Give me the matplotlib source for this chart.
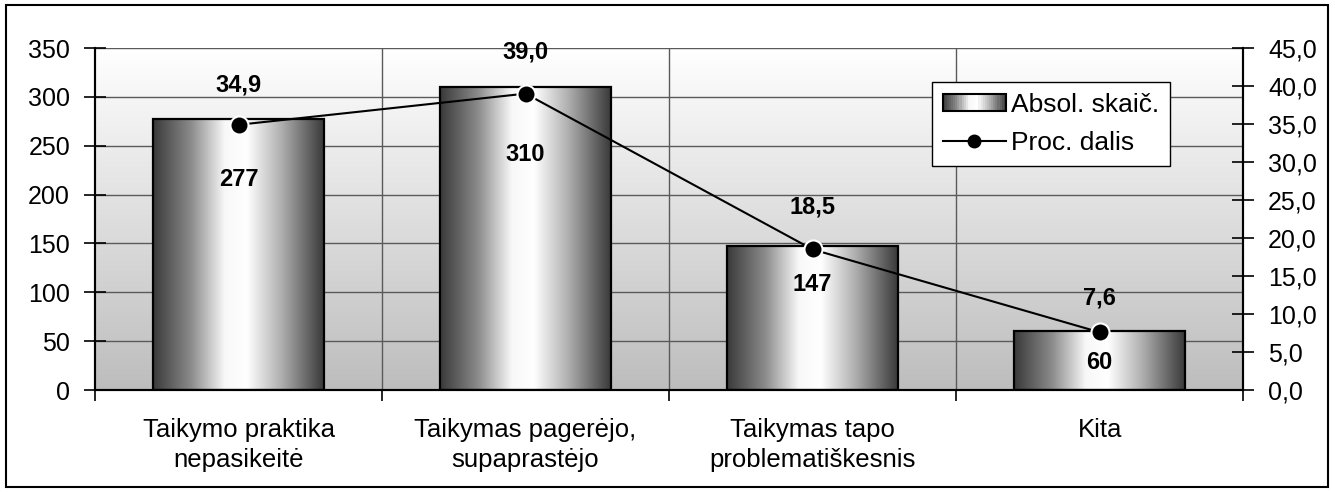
#!/usr/bin/env python

import numpy as np
import matplotlib
matplotlib.use('Agg')
import matplotlib.pyplot as plt
from matplotlib.patches import Rectangle
from matplotlib.lines import Line2D
from matplotlib.colors import LinearSegmentedColormap
from matplotlib.legend_handler import HandlerBase

categories = ['Taikymo praktika\nnepasikeitė', 'Taikymas pagerėjo,\nsupaprastėjo',
              'Taikymas tapo\nproblematiškesnis', 'Kita']
absol = [277, 310, 147, 60]
proc = [34.9, 39.0, 18.5, 7.6]
left_ticks = [0, 50, 100, 150, 200, 250, 300, 350]
right_ticks = [0, 5, 10, 15, 20, 25, 30, 35, 40, 45]

bar_cmap = LinearSegmentedColormap.from_list(
    'cyl', [(0.0, '#3a3a3a'), (0.22, '#8a8a8a'), (0.42, '#f8f8f8'), (0.55, '#ffffff'),
            (0.75, '#b0b0b0'), (1.0, '#3a3a3a')])
bg_cmap = LinearSegmentedColormap.from_list('bg', ['#bdbdbd', '#ffffff'])


class GradientHandler(HandlerBase):
    def create_artists(self, legend, orig_handle, xdescent, ydescent,
                       width, height, fontsize, trans):
        arts = []
        n = 30
        w = width / n
        for i in range(n):
            c = bar_cmap((i + 0.5) / n)
            arts.append(Rectangle((-xdescent + i * w, -ydescent), w, height,
                                  fc=c, ec='none', transform=trans))
        arts.append(Rectangle((-xdescent, -ydescent), width, height,
                              fc='none', ec='black', lw=1.5, transform=trans))
        return arts


def main():
    plt.rcParams['font.family'] = ['Liberation Sans', 'DejaVu Sans']
    fig = plt.figure(figsize=(13.35, 4.92), dpi=100)
    ax = fig.add_axes([0.0712, 0.2073, 0.86, 0.6951])
    ax2 = ax.twinx()

    x = np.arange(len(categories))
    ax.set_xlim(-0.5, len(categories) - 0.5)
    ax.set_ylim(0, 350)
    ax2.set_ylim(0, 45)

    # background gradient
    grad = np.linspace(0, 1, 256).reshape(-1, 1)
    ax.imshow(grad, cmap=bg_cmap, aspect='auto', origin='lower',
              extent=(-0.5, len(categories) - 0.5, 0, 350), zorder=0)

    # grid
    for v in left_ticks[1:]:
        ax.axhline(v, color='#5a5a5a', lw=1.0, zorder=1)
    for b in x[:-1] + 0.5:
        ax.axvline(b, color='#5a5a5a', lw=1.0, zorder=1)

    # cylinder bars
    bw = 0.595
    bars = ax.bar(x, absol, width=bw, color='none', edgecolor='black', lw=1.6, zorder=3)
    hgrad = np.linspace(0, 1, 256).reshape(1, -1)
    for rect in bars:
        x0 = rect.get_x()
        h = rect.get_height()
        im = ax.imshow(hgrad, cmap=bar_cmap, aspect='auto',
                       extent=(x0, x0 + rect.get_width(), 0, h), zorder=2)
        im.set_clip_path(rect)
    ax.set_xlim(-0.5, len(categories) - 0.5)
    ax.set_ylim(0, 350)

    # line on secondary axis
    ax2.plot(x, proc, color='black', lw=1.5, marker='o', markersize=13,
             markerfacecolor='black', markeredgecolor='white', markeredgewidth=1.5, zorder=5)

    # labels
    bar_offsets = [-60, -67, -38, -31]
    for xi, v, off in zip(x, absol, bar_offsets):
        ax.annotate(str(v), (xi, v), xytext=(0, off), textcoords='offset pixels',
                    ha='center', va='center', fontsize=17, fontweight='bold', zorder=6)
    proc_offsets = [40, 42, 42, 34]
    for xi, v, off in zip(x, proc, proc_offsets):
        ax2.annotate(f'{v:.1f}'.replace('.', ','), (xi, v), xytext=(0, off),
                     textcoords='offset pixels', ha='center', va='center',
                     fontsize=17, fontweight='bold')

    # axes styling
    ax.set_xticks(np.arange(-0.5, len(categories)), minor=False)
    ax.set_xticklabels([])
    ax.set_xticks(x, minor=True)
    ax.set_xticklabels(categories, minor=True, fontsize=18.5, linespacing=1.35)
    ax.tick_params(axis='x', which='major', direction='out', length=8, width=1.2)
    ax.tick_params(axis='x', which='minor', length=0, pad=20)

    ax.set_yticks(left_ticks)
    ax.tick_params(axis='y', direction='inout', length=16, width=1.2, labelsize=18, pad=10)
    ax2.set_yticks(right_ticks)
    ax2.set_yticklabels([f'{v:.1f}'.replace('.', ',') for v in right_ticks])
    ax2.tick_params(axis='y', direction='inout', length=16, width=1.2, labelsize=18, pad=10)

    for a in (ax, ax2):
        a.spines['top'].set_visible(False)
        for s in ('left', 'right', 'bottom'):
            a.spines[s].set_linewidth(1.5)
            a.spines[s].set_zorder(7)

    # legend
    handles = [Rectangle((0, 0), 1, 1), Line2D([], [], color='black', lw=1.5, marker='o',
                                                markersize=9, markerfacecolor='black')]
    leg = ax2.legend(handles, ['Absol. skaič.', 'Proc. dalis'], loc='upper left',
                     bbox_to_anchor=(0.729, 0.9), fontsize=19, frameon=True,
                     fancybox=False, edgecolor='black', framealpha=1,
                     handlelength=2.4, handleheight=0.6, handletextpad=0.2,
                     borderpad=0.4, labelspacing=0.55, borderaxespad=0,
                     handler_map={Rectangle: GradientHandler()})
    leg.get_frame().set_linewidth(1.0)
    leg.set_zorder(10)

    # figure border
    fig.patches.append(Rectangle((6 / 1335, 5 / 492), 1322 / 1335, 482 / 492,
                                 transform=fig.transFigure, fill=False,
                                 ec='black', lw=1.5))

    fig.savefig('out.png', dpi=100)


if __name__ == '__main__':
    main()
